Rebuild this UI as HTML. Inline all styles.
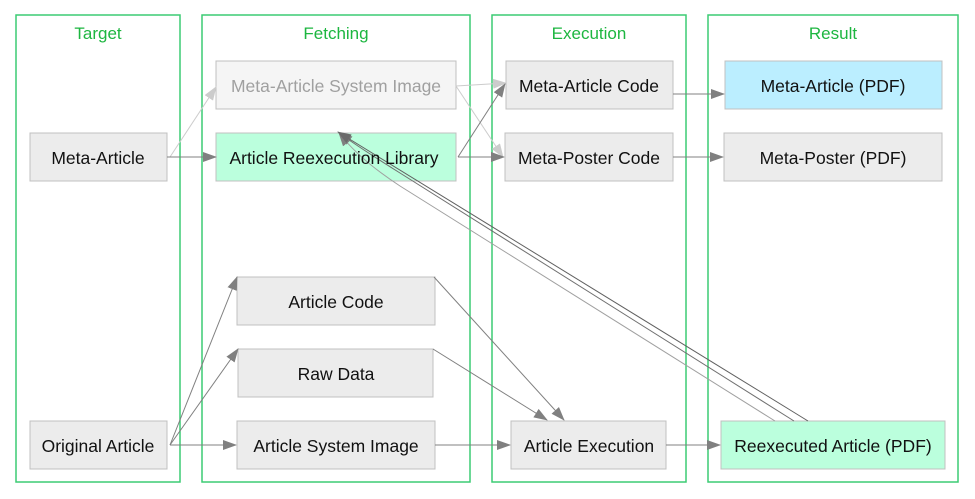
<!DOCTYPE html>
<html><head><meta charset="utf-8"><style>
body{margin:0;background:#fff;}
svg{display:block;font-family:"Liberation Sans",Arial,sans-serif;}
</style></head><body>
<svg width="975" height="499" viewBox="0 0 975 499" xmlns="http://www.w3.org/2000/svg">
<defs>
<marker id="ag" markerWidth="14" markerHeight="10" refX="13" refY="5" orient="auto" markerUnits="userSpaceOnUse"><path d="M0,0 L14,5 L0,10 z" fill="#808080"/></marker>
<marker id="al" markerWidth="14" markerHeight="10" refX="13" refY="5" orient="auto" markerUnits="userSpaceOnUse"><path d="M0,0 L14,5 L0,10 z" fill="#cccccc"/></marker>
<marker id="ad" markerWidth="14" markerHeight="10" refX="13" refY="5" orient="auto" markerUnits="userSpaceOnUse"><path d="M0,0 L14,5 L0,10 z" fill="#6a6a6a"/></marker>
</defs>
<g fill="none" stroke="#3ccc74" stroke-width="1.5">
<rect x="16" y="15" width="164" height="467"/>
<rect x="202" y="15" width="268" height="467"/>
<rect x="492" y="15" width="194" height="467"/>
<rect x="708" y="15" width="250" height="467"/>
</g>
<g fill="#1db640" font-size="17" text-anchor="middle">
<text x="98" y="39">Target</text>
<text x="336" y="39">Fetching</text>
<text x="589" y="39">Execution</text>
<text x="833" y="39">Result</text>
</g>
<g stroke="#c0c0c0" stroke-width="1">
<rect x="30" y="133" width="137" height="48" fill="#ececec"/>
<rect x="30" y="421" width="137" height="48" fill="#ececec"/>
<rect x="216" y="61" width="240" height="48" fill="#f5f5f5"/>
<rect x="216" y="133" width="240" height="48" fill="#bbffdd"/>
<rect x="237" y="277" width="198" height="48" fill="#ececec"/>
<rect x="238" y="349" width="195" height="48" fill="#ececec"/>
<rect x="237" y="421" width="198" height="48" fill="#ececec"/>
<rect x="506" y="61" width="167" height="48" fill="#ececec"/>
<rect x="505" y="133" width="168" height="48" fill="#ececec"/>
<rect x="511" y="421" width="155" height="48" fill="#ececec"/>
<rect x="725" y="61" width="217" height="48" fill="#bbeeff"/>
<rect x="724" y="133" width="218" height="48" fill="#ececec"/>
<rect x="721" y="421" width="224" height="48" fill="#bbffdd"/>
</g>
<g stroke-width="1" fill="none">
<line x1="170" y1="157" x2="216" y2="87" stroke="#cccccc" marker-end="url(#al)"/>
<line x1="456" y1="86" x2="506" y2="83" stroke="#cccccc" marker-end="url(#al)"/>
<line x1="456" y1="86" x2="503" y2="157" stroke="#cccccc" marker-end="url(#al)"/>
<line x1="167" y1="157" x2="216" y2="157" stroke="#808080" marker-end="url(#ag)"/>
<line x1="458" y1="157" x2="505" y2="84" stroke="#808080" marker-end="url(#ag)"/>
<line x1="458" y1="157" x2="504" y2="157" stroke="#808080" marker-end="url(#ag)"/>
<line x1="673" y1="94" x2="724" y2="94" stroke="#808080" marker-end="url(#ag)"/>
<line x1="673" y1="157" x2="723" y2="157" stroke="#808080" marker-end="url(#ag)"/>
<line x1="170" y1="445" x2="237" y2="277" stroke="#808080" marker-end="url(#ag)"/>
<line x1="170" y1="445" x2="238" y2="349" stroke="#808080" marker-end="url(#ag)"/>
<line x1="170" y1="445" x2="236" y2="445" stroke="#808080" marker-end="url(#ag)"/>
<line x1="434" y1="277" x2="564" y2="420" stroke="#808080" marker-end="url(#ag)"/>
<line x1="433" y1="349" x2="547" y2="420" stroke="#808080" marker-end="url(#ag)"/>
<line x1="435" y1="445" x2="510" y2="445" stroke="#808080" marker-end="url(#ag)"/>
<line x1="666" y1="445" x2="720" y2="445" stroke="#808080" marker-end="url(#ag)"/>
<path d="M775,421 L400,186 Q360,160 339,133" stroke="#a0a0a0" marker-end="url(#ag)"/>
<path d="M794,421 L400,173 Q360,148 339,133" stroke="#707070" marker-end="url(#ag)"/>
<line x1="808" y1="421" x2="338" y2="132" stroke="#606060" marker-end="url(#ad)"/>
</g>
<g font-size="17.5" text-anchor="middle" fill="#111">
<text x="98" y="164">Meta-Article</text>
<text x="98" y="452">Original Article</text>
<text x="336" y="92" fill="#a0a0a0">Meta-Article System Image</text>
<text x="334" y="164">Article Reexecution Library</text>
<text x="336" y="308">Article Code</text>
<text x="336" y="380">Raw Data</text>
<text x="336" y="452">Article System Image</text>
<text x="589" y="92">Meta-Article Code</text>
<text x="589" y="164">Meta-Poster Code</text>
<text x="589" y="452">Article Execution</text>
<text x="833" y="92">Meta-Article (PDF)</text>
<text x="833" y="164">Meta-Poster (PDF)</text>
<text x="833" y="452">Reexecuted Article (PDF)</text>
</g>
</svg>
</body></html>
